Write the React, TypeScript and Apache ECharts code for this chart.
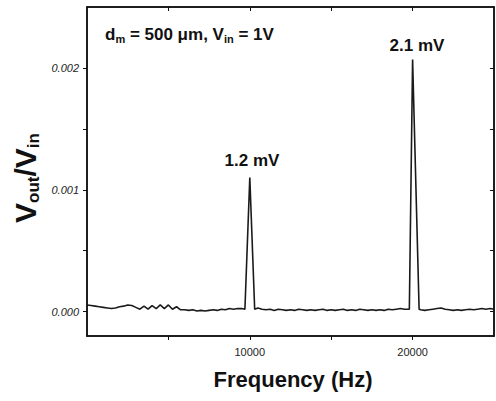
import React, { useEffect, useRef } from "react";
import * as echarts from "echarts";

// Frequency (Hz) of each sample
const frequency = [
  0, 250, 500, 750, 1000, 1250, 1500, 1750, 2000, 2250, 2500, 2750, 3000, 3250, 3500, 3750,
  4000, 4250, 4500, 4750, 5000, 5250, 5500, 5750, 6000, 6250, 6500, 6750, 7000, 7250, 7500,
  7750, 8000, 8250, 8500, 8750, 9000, 9250, 9500,
  9700, 10000, 10300,
  10500, 10750, 11000, 11250, 11500, 11750, 12000, 12250, 12500, 12750, 13000, 13250, 13500,
  13750, 14000, 14250, 14500, 14750, 15000, 15250, 15500, 15750, 16000, 16250, 16500, 16750,
  17000, 17250, 17500, 17750, 18000, 18250, 18500, 18750, 19000, 19250, 19500,
  19800, 20000, 20400,
  20500, 20750, 21000, 21250, 21500, 21750, 22000, 22250, 22500, 22750, 23000, 23250, 23500,
  23750, 24000, 24250, 24500, 24750, 25000,
];

// Vout / Vin
const ratio = [
  0.000055, 0.00005, 0.000045, 0.00004, 0.000035, 0.00003, 0.000025, 0.00003, 0.00004, 0.000045,
  0.000055, 0.00005, 0.000035, 0.00002, 0.000045, 0.00002, 0.00005, 0.000025, 0.000055, 0.000025,
  0.000055, 0.00002, 0.00004, 0.000015, 0.000015, 0.00001, 0.000015, 0.000005, 0.00001, 0.000005,
  0.00001, 0.000015, 0.00001, 0.00002, 0.000015, 0.000025, 0.00002, 0.000025, 0.000025,
  0.00002, 0.0011, 0.00002,
  0.00003, 0.00002, 0.000015, 0.00002, 0.00001, 0.00002, 0.000015, 0.00001, 0.000015, 0.00001,
  0.00002, 0.000015, 0.00001, 0.000015, 0.00001, 0.000015, 0.00002, 0.00001, 0.000015, 0.00001,
  0.000015, 0.00002, 0.00001, 0.000015, 0.00001, 0.00002, 0.000015, 0.00001, 0.000015, 0.00001,
  0.000015, 0.00001, 0.00002, 0.000015, 0.00002, 0.000025, 0.00002,
  0.00002, 0.00207, 0.00002,
  0.000015, 0.00001, 0.000015, 0.00002, 0.000025, 0.00003, 0.00002, 0.000015, 0.00001, 0.000015,
  0.00001, 0.000015, 0.00002, 0.000015, 0.00002, 0.000025, 0.00002, 0.000025, 0.00002,
];

const xTickValues = [5000, 10000, 15000, 20000];
const xLabelValues = [10000, 20000];
const yTickValues = [0, 0.0005, 0.001, 0.0015, 0.002];
const yLabelValues = [0, 0.001, 0.002];

const peakLabels = ["1.2 mV", "2.1 mV"];

const GRID = { left: 87, right: 2, top: 7, bottom: 65 };
const W = 496;
const H = 401;

const axisColor = "#111";
const font = "Arial, 'Liberation Sans', sans-serif";

function frameAxisX(position: "bottom" | "top", labelled: boolean) {
  return {
    type: "value",
    position,
    min: 0,
    max: 25000,
    axisLine: { show: true, onZero: false, lineStyle: { color: axisColor, width: 1.5 } },
    axisTick: {
      show: true,
      customValues: xTickValues.slice(),
      length: 4,
      inside: !labelled,
      lineStyle: { color: axisColor, width: 1 },
    },
    axisLabel: {
      show: true,
      customValues: (labelled ? xLabelValues : xTickValues).slice(),
      margin: 10,
      color: "#222",
      fontSize: 11,
      fontFamily: font,
      formatter: (v: number) => (labelled ? String(v) : ""),
    },
    splitLine: { show: false },
  };
}

function frameAxisY(position: "left" | "right", labelled: boolean) {
  return {
    type: "value",
    position,
    min: -0.0002,
    max: 0.0025,
    axisLine: { show: true, onZero: false, lineStyle: { color: axisColor, width: 1.5 } },
    axisTick: {
      show: true,
      customValues: yTickValues.slice(),
      length: 4,
      inside: !labelled,
      lineStyle: { color: axisColor, width: 1 },
    },
    axisLabel: {
      show: true,
      customValues: (labelled ? yLabelValues : yTickValues).slice(),
      margin: 8,
      color: "#222",
      fontSize: 11,
      fontStyle: "italic",
      fontFamily: font,
      formatter: (v: number) => (labelled ? v.toFixed(3) : ""),
    },
    splitLine: { show: false },
  };
}

export default function App() {
  const ref = useRef<HTMLDivElement>(null);
  useEffect(() => {
    document.body.style.margin = "0";
    if (!ref.current) return;
    const chart = echarts.init(ref.current, null, { renderer: "svg" });
    chart.setOption({
      animation: false,
      backgroundColor: "#fff",
      grid: { ...GRID, outerBoundsMode: "none", containLabel: false },
      xAxis: [frameAxisX("bottom", true), frameAxisX("top", false)],
      yAxis: [frameAxisY("left", true), frameAxisY("right", false)],
      series: [
        {
          type: "line",
          xAxisIndex: 0,
          yAxisIndex: 0,
          data: frequency.map((f, i) => [f, ratio[i]]),
          showSymbol: false,
          symbol: "none",
          lineStyle: { color: "#1a1a1a", width: 1.6 },
          silent: true,
        },
      ],
      graphic: [
        {
          type: "rect",
          z: 50,
          shape: {
            x: GRID.left,
            y: GRID.top,
            width: W - GRID.left - GRID.right,
            height: H - GRID.top - GRID.bottom,
          },
          style: { fill: "none", stroke: axisColor, lineWidth: 1.5 },
        },
        {
          type: "text",
          x: 293,
          y: 368,
          style: {
            text: "Frequency (Hz)",
            font: `bold 22px ${font}`,
            fill: "#111",
            textAlign: "center",
            textVerticalAlign: "top",
          },
        },
        {
          type: "text",
          x: 25,
          y: 178,
          rotation: Math.PI / 2,
          style: {
            text: "{v|V}{s|out}{v|/V}{s|in}",
            textAlign: "center",
            textVerticalAlign: "middle",
            fill: "#111",
            rich: {
              v: { fontSize: 30, fontWeight: "bold", fontFamily: font, lineHeight: 34, fill: "#111" },
              s: { fontSize: 17, fontWeight: "bold", fontFamily: font, lineHeight: 17, verticalAlign: "bottom", fill: "#111" },
            },
          },
        },
        {
          type: "text",
          x: 105,
          y: 24,
          style: {
            text: "{b|d}{s|m}{b| = 500 μm, V}{s|in}{b| = 1V}",
            fill: "#111",
            rich: {
              b: { fontSize: 17, fontWeight: "bold", fontFamily: font, lineHeight: 20, fill: "#111" },
              s: { fontSize: 11, fontWeight: "bold", fontFamily: font, lineHeight: 11, verticalAlign: "bottom", fill: "#111" },
            },
          },
        },
        {
          type: "text",
          x: 252,
          y: 152,
          style: {
            text: peakLabels[0],
            font: `bold 17px ${font}`,
            fill: "#111",
            textAlign: "center",
            textVerticalAlign: "top",
          },
        },
        {
          type: "text",
          x: 417,
          y: 37,
          style: {
            text: peakLabels[1],
            font: `bold 17px ${font}`,
            fill: "#111",
            textAlign: "center",
            textVerticalAlign: "top",
          },
        },
      ],
    });
    return () => chart.dispose();
  }, []);
  return <div ref={ref} style={{ width: W, height: H }} />;
}
